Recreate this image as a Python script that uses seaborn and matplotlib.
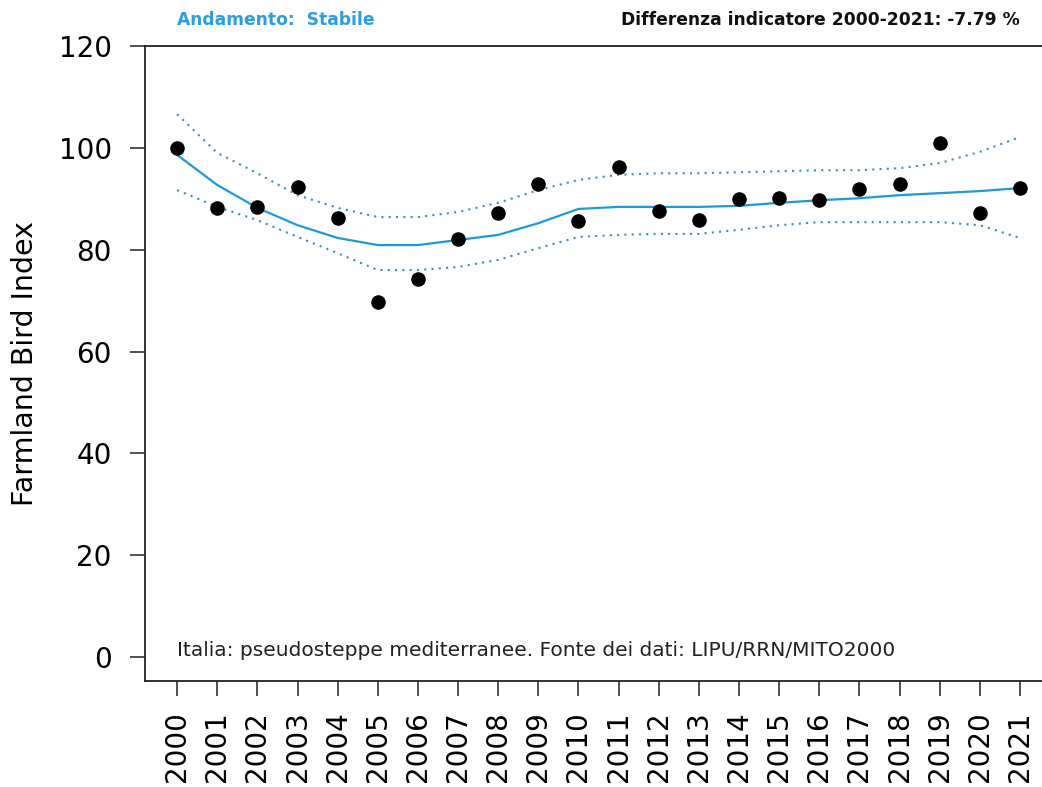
import numpy as np
import pandas as pd
import matplotlib
matplotlib.use("Agg")
import matplotlib.pyplot as plt
import matplotlib.transforms as mtransforms
import seaborn as sns

# ---------- data ----------
YEARS = list(range(2000, 2022))

INDEX = [100.0, 88.2, 88.4, 92.3, 86.2, 69.7, 74.2, 82.1, 87.2, 92.9, 85.6,
         96.2, 87.6, 85.8, 89.9, 90.1, 89.7, 91.9, 92.9, 100.9, 87.2, 92.1]

TREND = [98.6, 92.7, 88.2, 84.8, 82.3, 80.9, 80.9, 81.9, 82.9, 85.2, 88.0,
         88.4, 88.4, 88.4, 88.6, 89.2, 89.7, 90.1, 90.7, 91.1, 91.5, 92.1]

UPPER = [106.6, 99.0, 95.0, 90.7, 88.2, 86.4, 86.4, 87.4, 89.2, 91.7, 93.7,
         94.7, 95.0, 95.0, 95.2, 95.4, 95.6, 95.6, 96.0, 97.0, 99.2, 102.1]

LOWER = [91.7, 88.4, 85.8, 82.5, 79.3, 76.0, 76.0, 76.6, 78.0, 80.3, 82.5,
         82.9, 83.1, 83.1, 83.9, 84.8, 85.4, 85.4, 85.4, 85.4, 84.8, 82.3]

Y_TICKS = [0, 20, 40, 60, 80, 100, 120]

TREND_LABEL = "Andamento:  Stabile"
DIFF_LABEL = "Differenza indicatore 2000-2021: -7.79 %"
SOURCE_LABEL = "Italia: pseudosteppe mediterranee. Fonte dei dati: LIPU/RRN/MITO2000"

# ---------- style ----------
LINE_BLUE = "#1f9ad6"
DOT_BLUE = "#3f8fae"
TITLE_BLUE = "#2a9ee0"

sns.set_style("white")
plt.rcParams["font.family"] = ["DejaVu Sans"]

df = pd.DataFrame({
    "year": YEARS,
    "index": INDEX,
    "trend": TREND,
    "upper": UPPER,
    "lower": LOWER,
})

fig = plt.figure(figsize=(10.42, 7.87), dpi=100)
ax = fig.add_axes([0.1392, 0.1347, 0.8608, 0.8069])

# confidence band (dotted) and smoothed trend
sns.lineplot(data=df, x="year", y="upper", ax=ax, color=DOT_BLUE,
             linestyle=(0, (1, 2.5)), linewidth=1.5)
sns.lineplot(data=df, x="year", y="lower", ax=ax, color=DOT_BLUE,
             linestyle=(0, (1, 2.5)), linewidth=1.5)
sns.lineplot(data=df, x="year", y="trend", ax=ax, color=LINE_BLUE,
             linewidth=1.6)
sns.scatterplot(data=df, x="year", y="index", ax=ax, color="black",
                s=110, edgecolor="black", linewidth=0, zorder=5)

ax.set_xlim(1999.2, 2021.55)
ax.set_ylim(-4.7, 120)
ax.set_xticks(YEARS)
ax.set_xticklabels([str(y) for y in YEARS], rotation=90, fontsize=20,
                   color="black")
ax.set_yticks(Y_TICKS)
ax.set_yticklabels([str(t) for t in Y_TICKS], fontsize=20, color="black")
ax.set_xlabel("")
ax.set_ylabel("Farmland Bird Index", fontsize=20.5, labelpad=14,
              color="black")

ax.tick_params(axis="both", direction="out", length=11, width=1.1,
               color="#222222", left=True, bottom=True)
ax.tick_params(axis="y", pad=13)
ax.tick_params(axis="x", pad=11)

for side in ["left", "bottom", "top"]:
    ax.spines[side].set_visible(True)
    ax.spines[side].set_color("#222222")
    ax.spines[side].set_linewidth(1.3)
ax.spines["right"].set_visible(False)

# header texts above the box
trans = mtransforms.blended_transform_factory(ax.transData, ax.transAxes)
ax.text(2000, 1.041, TREND_LABEL, transform=trans, ha="left", va="center",
        fontsize=12.3, fontweight="bold", color=TITLE_BLUE)
ax.text(2021, 1.041, DIFF_LABEL, transform=trans, ha="right", va="center",
        fontsize=12.3, fontweight="bold", color="#111111")

# source note inside the box
ax.text(2000, 1.3, SOURCE_LABEL, ha="left", va="center", fontsize=14.5,
        color="#222222")

fig.savefig("out.png", dpi=100)
plt.close(fig)
